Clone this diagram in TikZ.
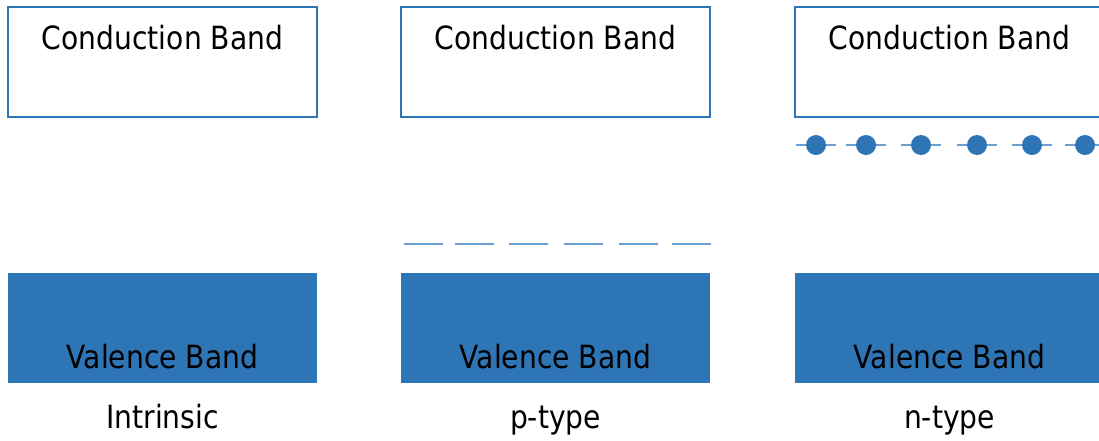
\documentclass[tikz,border=0pt]{standalone}
\usepackage{fontspec}
\setmainfont{DejaVu Sans}[FakeStretch=0.88]
\definecolor{bandblue}{HTML}{2E75B6}
\definecolor{levelblue}{HTML}{6A9FD4}
\begin{document}
\begin{tikzpicture}[x=1pt,y=-1pt,
  cband/.style={draw=bandblue,line width=2pt,fill=white,minimum width=309pt,minimum height=110pt,inner sep=0pt},
  vband/.style={fill=bandblue,minimum width=309pt,minimum height=110pt,inner sep=0pt},
  bandtext/.style={anchor=base,inner sep=0pt,font=\fontsize{32}{38}\selectfont},
  level/.style={draw=levelblue,line width=2pt},
  donor/.style={circle,fill=bandblue,minimum size=20pt,inner sep=0pt}]
\useasboundingbox (0,0) rectangle (1099,440);
\clip (0,0) rectangle (1099,440);
% three band diagrams side by side
\foreach \n/\cx/\lab in {1/162.5/Intrinsic,2/555.5/p-type,3/949.5/n-type}{
  \node[cband] (cb\n) at (\cx,62) {};
  \node[vband] (vb\n) at (\cx,328) {};
  \node[bandtext] (cbt\n) at (\cx,49) {Conduction Band};
  \node[bandtext] (vbt\n) at (\cx,368) {Valence Band};
  \node[bandtext] (lab\n) at (\cx,428) {\lab};
}
% acceptor level just above the valence band
\foreach \x [count=\i] in {404,455,509,564,619,672}{
  \coordinate (acc\i a) at (\x,244);
  \coordinate (acc\i b) at (\x+39,244);
  \draw[level] (acc\i a) -- (acc\i b);
}
% donor level with electrons just below the conduction band
\foreach \x [count=\i] in {816,866,921,977,1032,1085}{
  \coordinate (don\i a) at (\x-20,145);
  \coordinate (don\i b) at (\x+20,145);
  \draw[level] (don\i a) -- (don\i b);
  \node[donor] (e\i) at (\x,145) {};
}
\end{tikzpicture}
\end{document}
